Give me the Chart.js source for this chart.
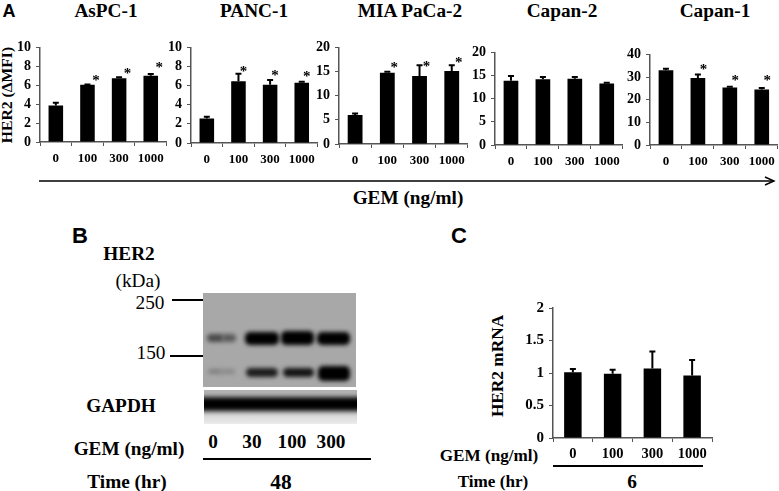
<!DOCTYPE html>
<html>
<head>
<meta charset="utf-8">
<title>HER2 expression</title>
<script src="https://cdn.jsdelivr.net/npm/chart.js@4"></script>
<style>
    html, body { margin: 0; padding: 0; background: #fff; }
    body { position: relative; width: 779px; height: 491px; overflow: hidden; }
    canvas { position: absolute; }
    .t {
        position: absolute; white-space: nowrap; color: #000;
        font: bold 18px "Liberation Serif", serif;
        transform: translate(-50%, -50%) scaleX(1.07);
    }
    .reg { font-weight: normal; }
    .letter { font: bold 22px "Liberation Sans", sans-serif; transform: translate(-50%, -50%); }
    .small { font-size: 16px; }
    .rot { transform: translate(-50%, -50%) rotate(-90deg) scaleX(1.08); }
    .rule { position: absolute; background: #000; }
    .blot { position: absolute; overflow: hidden; }
    .band { position: absolute; }
</style>
</head>
<body>

<!-- panel A text -->
<div class="t letter" style="left:9px;top:11px;font-size:18px">A</div>
<div class="t" style="left:106px;top:11px">AsPC-1</div>
<div class="t" style="left:254px;top:11px">PANC-1</div>
<div class="t" style="left:410px;top:11px">MIA PaCa-2</div>
<div class="t" style="left:562px;top:11px">Capan-2</div>
<div class="t" style="left:715px;top:11px">Capan-1</div>
<div class="t" style="left:408px;top:198px">GEM (ng/ml)</div>
<div class="t rot" style="left:7px;top:95px;font-size:14.5px">HER2 (ΔMFI)</div>

<svg style="position:absolute;left:0;top:0" width="779" height="491">
    <line x1="39" y1="181" x2="774" y2="181" stroke="#000" stroke-width="1.4"/>
    <polyline points="765,177 774,181 765,185" fill="none" stroke="#000" stroke-width="1.4"/>
</svg>

<!-- panel B: blot -->
<div class="t letter" style="left:80px;top:236px">B</div>
<div class="t" style="left:129px;top:254px">HER2</div>
<div class="t reg" style="left:138px;top:281px">(kDa)</div>
<div class="t reg" style="left:150px;top:303px">250</div>
<div class="t reg" style="left:151px;top:353px">150</div>
<div class="rule" style="left:172px;top:299px;width:33px;height:2px"></div>
<div class="rule" style="left:170px;top:355px;width:33px;height:2px"></div>

<div class="blot" id="blotHer2" style="left:203px;top:293px;width:153px;height:94px;background:#a8a8a8"></div>
<div class="blot" id="blotGapdh" style="left:204px;top:390px;width:153px;height:34px;background:linear-gradient(#b0b0b0,#c4c4c4 25%,#d0d0d0 65%,#ececec)"></div>

<div class="t" style="left:121px;top:406px">GAPDH</div>
<div class="t" style="left:129px;top:449px">GEM (ng/ml)</div>
<div class="t" style="left:213px;top:442px">0</div>
<div class="t" style="left:252px;top:442px">30</div>
<div class="t" style="left:292px;top:442px">100</div>
<div class="t" style="left:331px;top:442px">300</div>
<div class="rule" style="left:203px;top:458px;width:168px;height:1.5px"></div>
<div class="t" style="left:127px;top:482px">Time (hr)</div>
<div class="t" style="left:281px;top:482px;font-size:20px">48</div>

<!-- panel C text -->
<div class="t letter" style="left:459px;top:236px">C</div>
<div class="t rot" style="left:498px;top:366px;font-size:16px">HER2 mRNA</div>
<div class="t small" style="left:489px;top:456px">GEM (ng/ml)</div>
<div class="rule" style="left:553px;top:465px;width:150px;height:1.5px"></div>
<div class="t small" style="left:493px;top:482px">Time (hr)</div>
<div class="t" style="left:632px;top:482px">6</div>

<script>
// ✅ Chart data
const gemDoses = ["0", "100", "300", "1000"];

const aspcValues = [3.85, 6.05, 6.75, 7.0];
const aspcErrors = [0.3, 0.02, 0.1, 0.2];
const aspcStars = [null, 6.7, 7.35, 8.05];

const pancValues = [2.55, 6.45, 6.1, 6.3];
const pancErrors = [0.2, 0.8, 0.5, 0.1];
const pancStars = [null, 7.6, 7.2, 7.15];

const miaValues = [6.0, 14.75, 14.1, 15.1];
const miaErrors = [0.3, 0.2, 2.2, 1.2];
const miaStars = [null, 16.1, 16.3, 17.2];

const capan2Values = [13.9, 14.2, 14.3, 13.3];
const capan2Errors = [1.0, 0.5, 0.4, 0.15];

const capan1Values = [33.0, 29.6, 25.35, 24.5];
const capan1Errors = [0.7, 1.5, 0.4, 0.7];
const capan1Stars = [null, 34.2, 29.0, 29.0];

const mrnaValues = [1.01, 0.99, 1.07, 0.96];
const mrnaErrors = [0.05, 0.06, 0.26, 0.24];

// --- Western blot bands (just picture decoration, not chart data) ---
const her2Bands = [
    [4, 41, 17, 8, "#4a4a4a"], [19, 41, 14, 8, "#5a5a5a"],
    [42, 39, 34, 13, "#000"], [78, 38, 33, 14, "#000"], [114, 39, 33, 13, "#000"],
    [5, 76, 14, 5, "#808080"], [18, 76, 14, 5, "#888"],
    [43, 75, 32, 9, "#1c1c1c"], [80, 75, 31, 9, "#141414"], [115, 73, 32, 15, "#000"]
];
const her2Host = document.getElementById("blotHer2");
her2Bands.forEach(([left, top, width, height, color]) => {
    const band = document.createElement("div");
    band.className = "band";
    band.style.cssText = `left:${left}px;top:${top}px;width:${width}px;height:${height}px;background:${color};border-radius:5px;filter:blur(2px)`;
    her2Host.appendChild(band);
});
const gapdhBand = document.createElement("div");
gapdhBand.className = "band";
gapdhBand.style.cssText = "left:-8px;top:7px;width:170px;height:14px;background:#000;filter:blur(2.5px)";
document.getElementById("blotGapdh").appendChild(gapdhBand);

// --- Error bars and asterisks, placed with the chart scales ---
const errorBarPlugin = {
    id: "errorBars",
    afterDatasetsDraw(chart, args, opts) {
        const { ctx, scales: { y } } = chart;
        const bars = chart.getDatasetMeta(0).data;
        ctx.save();
        bars.forEach((bar, i) => {
            const base = y.getPixelForValue(opts.values[i]);
            const top = y.getPixelForValue(opts.values[i] + opts.errors[i]);
            ctx.strokeStyle = "#000";
            ctx.lineWidth = 2;
            ctx.beginPath();
            ctx.moveTo(bar.x, base);
            ctx.lineTo(bar.x, top);
            ctx.moveTo(bar.x - 3, top);
            ctx.lineTo(bar.x + 3, top);
            ctx.stroke();
            if (opts.stars && opts.stars[i] != null) {
                ctx.fillStyle = "#000";
                ctx.font = 'bold 15px "Liberation Serif", serif';
                ctx.textAlign = "center";
                ctx.textBaseline = "alphabetic";
                ctx.fillText("*", bar.x + opts.starDx, y.getPixelForValue(opts.stars[i]) + 6);
            }
        });
        ctx.restore();
    }
};

// axisX / plotTop etc. are the pixel box of the plot area in the page
function drawPanel(cfg) {
    const padTop = 10, padRight = 2;
    const canvas = document.createElement("canvas");
    const w = cfg.yWidth + cfg.plotWidth + padRight;
    const h = padTop + cfg.plotHeight + cfg.xHeight;
    canvas.width = w;
    canvas.height = h;
    canvas.style.left = (cfg.axisX - cfg.yWidth) + "px";
    canvas.style.top = (cfg.plotTop - padTop) + "px";
    canvas.style.width = w + "px";
    canvas.style.height = h + "px";
    document.body.appendChild(canvas);

    new Chart(canvas.getContext("2d"), {
        type: "bar",
        data: {
            labels: gemDoses,
            datasets: [{
                data: cfg.values,
                backgroundColor: "#000",
                barPercentage: 1,
                categoryPercentage: cfg.barShare
            }]
        },
        plugins: [errorBarPlugin],
        options: {
            responsive: false,
            animation: false,
            layout: { padding: { top: padTop, right: padRight, left: 0, bottom: 0 } },
            plugins: {
                legend: { display: false },
                tooltip: { enabled: false },
                errorBars: { values: cfg.values, errors: cfg.errors, stars: cfg.stars, starDx: cfg.starDx }
            },
            scales: {
                x: {
                    afterFit: (scale) => { scale.height = cfg.xHeight; },
                    border: { color: "#555", width: 1.5 },
                    grid: { offset: true, drawOnChartArea: false, tickLength: 4, color: "#555" },
                    ticks: {
                        color: "#000",
                        padding: cfg.xPadding,
                        maxRotation: 0,
                        autoSkip: false,
                        font: { family: "Liberation Serif", weight: "bold", size: cfg.xFont }
                    }
                },
                y: {
                    min: 0,
                    max: cfg.max,
                    afterFit: (scale) => { scale.width = cfg.yWidth; },
                    border: { color: "#555", width: 1.5 },
                    grid: { drawOnChartArea: false, tickLength: 4, color: "#555" },
                    ticks: {
                        color: "#000",
                        padding: 5,
                        stepSize: cfg.step,
                        autoSkip: false,
                        callback: (value) => String(value),
                        font: { family: "Liberation Serif", weight: "bold", size: cfg.yFont }
                    }
                }
            }
        }
    });
}

const commonA = { barShare: 0.46, xHeight: 24, xPadding: 5, xFont: 13, yFont: 14 };

drawPanel({ ...commonA, axisX: 40, plotTop: 44, plotWidth: 127, plotHeight: 98, yWidth: 30, max: 10, step: 2,
    values: aspcValues, errors: aspcErrors, stars: aspcStars, starDx: 8.5 });
drawPanel({ ...commonA, axisX: 191, plotTop: 44, plotWidth: 127, plotHeight: 99, yWidth: 30, max: 10, step: 2,
    values: pancValues, errors: pancErrors, stars: pancStars, starDx: 5 });
drawPanel({ ...commonA, axisX: 339, plotTop: 44, plotWidth: 129, plotHeight: 100, yWidth: 30, max: 20, step: 5,
    values: miaValues, errors: miaErrors, stars: miaStars, starDx: 7 });
drawPanel({ ...commonA, axisX: 495, plotTop: 49, plotWidth: 128, plotHeight: 96, yWidth: 30, max: 20, step: 5,
    values: capan2Values, errors: capan2Errors });
drawPanel({ ...commonA, axisX: 650, plotTop: 51, plotWidth: 128, plotHeight: 94, yWidth: 30, max: 40, step: 10,
    values: capan1Values, errors: capan1Errors, stars: capan1Stars, starDx: 5.5 });
drawPanel({ axisX: 553, plotTop: 304, plotWidth: 159, plotHeight: 134, yWidth: 35, max: 2, step: 0.5,
    barShare: 0.44, xHeight: 26, xPadding: 4, xFont: 14.5, yFont: 15,
    values: mrnaValues, errors: mrnaErrors });
</script>
</body>
</html>
